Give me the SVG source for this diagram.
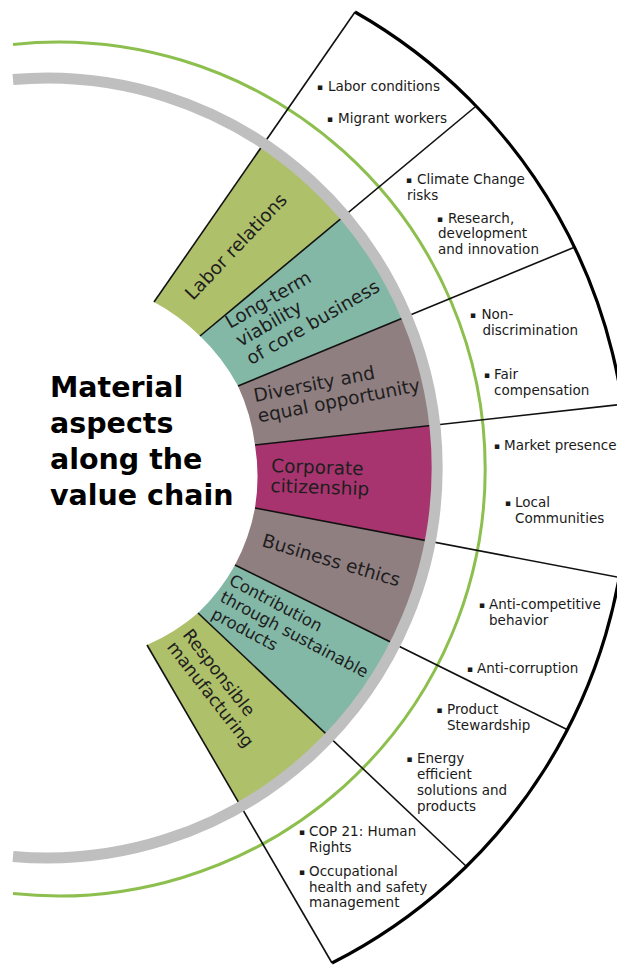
<svg xmlns="http://www.w3.org/2000/svg" width="617" height="966" viewBox="0 0 617 966">
<style>
text{font-family:"DejaVu Sans",Verdana,"Liberation Sans",sans-serif;fill:#1a1a1a}
.title{font-size:28.5px;font-weight:bold;fill:#000}
.sec{font-size:18.5px;fill:#1e1e1e}
.sec2{font-size:16.5px;fill:#1e1e1e}
.sec3{font-size:17.5px;fill:#1e1e1e}
.b{font-size:13.5px}
.bul{font-size:9px}
.olive{fill:#afc06a}
.teal{fill:#83b8a7}
.mauve{fill:#907f81}
.magenta{fill:#a8346f}
.div{stroke:#111;stroke-width:1.6;fill:none}
</style>
<rect width="617" height="966" fill="#fff"/>

<g id="sector-labor-relations">
<path class="olive" d="M154,302 L263.7,143.7 A390,390 0 0 1 344.4,215.7 L200,336 A197,197 0 0 0 154,302 Z"/>
<text class="sec" transform="translate(193,301) rotate(-46.5)">Labor relations</text>
</g>
<g id="sector-long-term">
<path class="teal" d="M200,336 L344.4,215.7 A390,390 0 0 1 406.4,316.5 L238,386 A197,197 0 0 0 200,336 Z"/>
<text class="sec" transform="translate(230,329) rotate(-30)"><tspan x="0" y="0">Long-term</tspan><tspan x="0" y="21">viability</tspan><tspan x="0" y="42">of core business</tspan></text>
</g>
<g id="sector-diversity">
<path class="mauve" d="M238,386 L406.4,316.5 A390,390 0 0 1 434.6,425.2 L255,445 A197,197 0 0 0 238,386 Z"/>
<text class="sec" transform="translate(255,402) rotate(-11)"><tspan x="0" y="0">Diversity and</tspan><tspan x="0" y="21">equal opportunity</tspan></text>
</g>
<g id="sector-corporate-citizenship">
<path class="magenta" d="M255,445 L434.6,425.2 A390,390 0 0 1 430,541.4 L255,508 A197,197 0 0 0 255,445 Z"/>
<text class="sec" transform="translate(271,472) rotate(2)"><tspan x="0" y="0">Corporate</tspan><tspan x="0" y="20">citizenship</tspan></text>
</g>
<g id="sector-business-ethics">
<path class="mauve" d="M255,508 L430,541.4 A390,390 0 0 1 394.9,644.3 L235,565 A197,197 0 0 0 255,508 Z"/>
<text class="sec" transform="translate(261,546) rotate(16.5)">Business ethics</text>
</g>
<g id="sector-contribution">
<path class="teal" d="M235,565 L394.9,644.3 A390,390 0 0 1 329.4,737.1 L198,613 A197,197 0 0 0 235,565 Z"/>
<text class="sec2" transform="translate(228,584) rotate(28)"><tspan x="0" y="0">Contribution</tspan><tspan x="0" y="19">through sustainable</tspan><tspan x="0" y="38">products</tspan></text>
</g>
<g id="sector-responsible-manufacturing">
<path class="olive" d="M198,613 L329.4,737.1 A390,390 0 0 1 240.9,806.4 L147,645 A197,197 0 0 0 198,613 Z"/>
<text class="sec3" transform="translate(182,635) rotate(52)"><tspan x="0" y="0">Responsible</tspan><tspan x="0" y="20">manufacturing</tspan></text>
</g>

<path id="green-ring" d="M13,44.4 A427,427 0 1 1 13,893.6" fill="none" stroke="#8dbf4e" stroke-width="3"/>

<g id="connectors">
<line class="div" x1="154" y1="302" x2="355" y2="12"/>
<line class="div" x1="200" y1="336" x2="475" y2="107"/>
<line class="div" x1="238" y1="386" x2="575" y2="247"/>
<line class="div" x1="255" y1="445" x2="625" y2="404"/>
<line class="div" x1="255" y1="508" x2="625" y2="578.5"/>
<line class="div" x1="235" y1="565" x2="568" y2="730"/>
<line class="div" x1="198" y1="613" x2="467" y2="867"/>
<line class="div" x1="147" y1="645" x2="332" y2="963"/>
</g>

<path id="gray-ring" d="M13,79.5 A390,390 0 1 1 13,856.5" fill="none" stroke="#bfbfbf" stroke-width="11"/>
<path id="outer-arc" d="M355,12 A540,540 0 0 1 332,963" fill="none" stroke="#000" stroke-width="3.2"/>

<g id="title">
<text class="title"><tspan x="50" y="397">Material</tspan><tspan x="50" y="433">aspects</tspan><tspan x="50" y="469">along the</tspan><tspan x="50" y="504.5">value chain</tspan></text>
</g>

<g id="aspects-labor-relations">
<text class="b"><tspan class="bul" x="317" y="90">▪</tspan><tspan x="328" y="91">Labor conditions</tspan></text>
<text class="b"><tspan class="bul" x="327" y="122">▪</tspan><tspan x="338" y="123">Migrant workers</tspan></text>
</g>
<g id="aspects-long-term">
<text class="b"><tspan class="bul" x="406" y="183">▪</tspan><tspan x="417" y="184">Climate Change</tspan><tspan x="407" y="199.5">risks</tspan></text>
<text class="b"><tspan class="bul" x="437" y="221.5">▪</tspan><tspan x="448" y="222.5">Research,</tspan><tspan x="438" y="238">development</tspan><tspan x="438" y="253.5">and innovation</tspan></text>
</g>
<g id="aspects-diversity">
<text class="b"><tspan class="bul" x="470" y="318">▪</tspan><tspan x="481.5" y="319">Non-</tspan><tspan x="482.5" y="335">discrimination</tspan></text>
<text class="b"><tspan class="bul" x="484" y="378">▪</tspan><tspan x="494" y="379">Fair</tspan><tspan x="494" y="394.5">compensation</tspan></text>
</g>
<g id="aspects-corporate-citizenship">
<text class="b"><tspan class="bul" x="494" y="448.5">▪</tspan><tspan x="504" y="449.5">Market presence</tspan></text>
<text class="b"><tspan class="bul" x="505" y="505.5">▪</tspan><tspan x="515" y="506.5">Local</tspan><tspan x="515" y="522.5">Communities</tspan></text>
</g>
<g id="aspects-business-ethics">
<text class="b"><tspan class="bul" x="479" y="607.5">▪</tspan><tspan x="489" y="608.5">Anti-competitive</tspan><tspan x="489" y="624.5">behavior</tspan></text>
<text class="b"><tspan class="bul" x="467" y="671.5">▪</tspan><tspan x="477" y="672.5">Anti-corruption</tspan></text>
</g>
<g id="aspects-contribution">
<text class="b"><tspan class="bul" x="436.5" y="712.5">▪</tspan><tspan x="447" y="713.5">Product</tspan><tspan x="447" y="729.5">Stewardship</tspan></text>
<text class="b"><tspan class="bul" x="406.5" y="761.5">▪</tspan><tspan x="417" y="762.5">Energy</tspan><tspan x="417" y="778.5">efficient</tspan><tspan x="417" y="794.5">solutions and</tspan><tspan x="417" y="810.5">products</tspan></text>
</g>
<g id="aspects-responsible-manufacturing">
<text class="b"><tspan class="bul" x="299" y="835">▪</tspan><tspan x="309" y="836">COP 21: Human</tspan><tspan x="309" y="852">Rights</tspan></text>
<text class="b"><tspan class="bul" x="299" y="874.5">▪</tspan><tspan x="309" y="875.5">Occupational</tspan><tspan x="309" y="891.5">health and safety</tspan><tspan x="309" y="907">management</tspan></text>
</g>
</svg>
